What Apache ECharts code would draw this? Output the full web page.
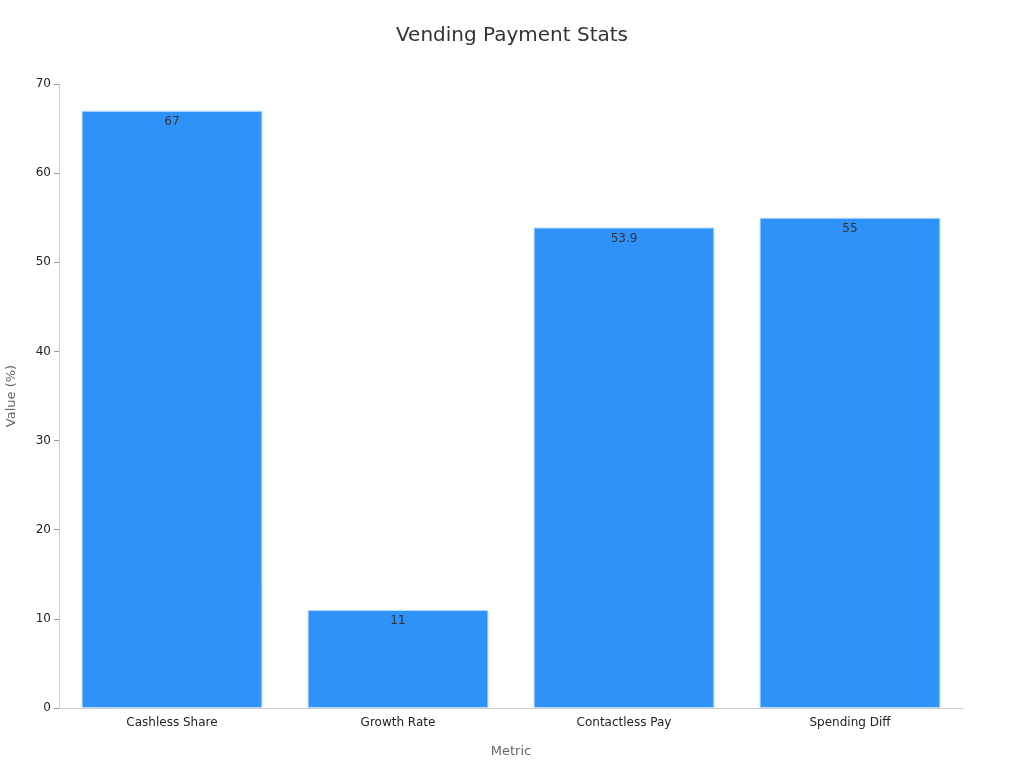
<!DOCTYPE html>
<html>
<head>
<meta charset="utf-8">
<script src="https://cdn.jsdelivr.net/npm/echarts@6/dist/echarts.min.js"></script>
<style>
    html, body { margin: 0; padding: 0; background: #fff; }
    #main { width: 1024px; height: 768px; }
</style>
</head>
<body>
<div id="main"></div>
<script>
var categories = ['Cashless Share', 'Growth Rate', 'Contactless Pay', 'Spending Diff'];
var values = [67, 11, 53.9, 55];
var yTicks = [0, 10, 20, 30, 40, 50, 60, 70];

var chart = echarts.init(document.getElementById('main'));
var option = {
    backgroundColor: '#ffffff',
    textStyle: { fontFamily: 'DejaVu Sans' },
    title: {
        text: 'Vending Payment Stats',
        left: 'center',
        top: 21,
        textStyle: { fontSize: 20, fontWeight: 'normal', color: '#333', fontFamily: 'DejaVu Sans' }
    },
    grid: { left: 59, right: 61, top: 84, bottom: 60, outerBoundsMode: 'none' },
    xAxis: {
        type: 'category',
        data: categories,
        name: 'Metric',
        nameLocation: 'middle',
        nameGap: 37,
        nameTextStyle: { color: '#666', fontSize: 13 },
        axisLine: { lineStyle: { color: '#ccc' } },
        axisTick: { alignWithLabel: true, lineStyle: { color: '#999' } },
        axisLabel: { color: '#222', fontSize: 12, margin: 9 }
    },
    yAxis: {
        type: 'value',
        min: yTicks[0],
        max: yTicks[yTicks.length - 1],
        interval: 10,
        name: 'Value (%)',
        nameLocation: 'middle',
        nameGap: 41,
        nameTextStyle: { color: '#666', fontSize: 13 },
        axisLine: { show: true, lineStyle: { color: '#ccc' } },
        axisTick: { show: true, lineStyle: { color: '#999' } },
        axisLabel: { color: '#222', fontSize: 12 },
        splitLine: { show: false }
    },
    series: [{
        type: 'bar',
        data: values,
        barCategoryGap: '20%',
        itemStyle: { color: '#2f92f9', borderColor: '#b8dcff', borderWidth: 1 },
        label: {
            show: true,
            position: 'insideTop',
            distance: 5,
            color: '#333',
            fontSize: 12
        }
    }]
};
chart.setOption(option);
</script>
</body>
</html>
